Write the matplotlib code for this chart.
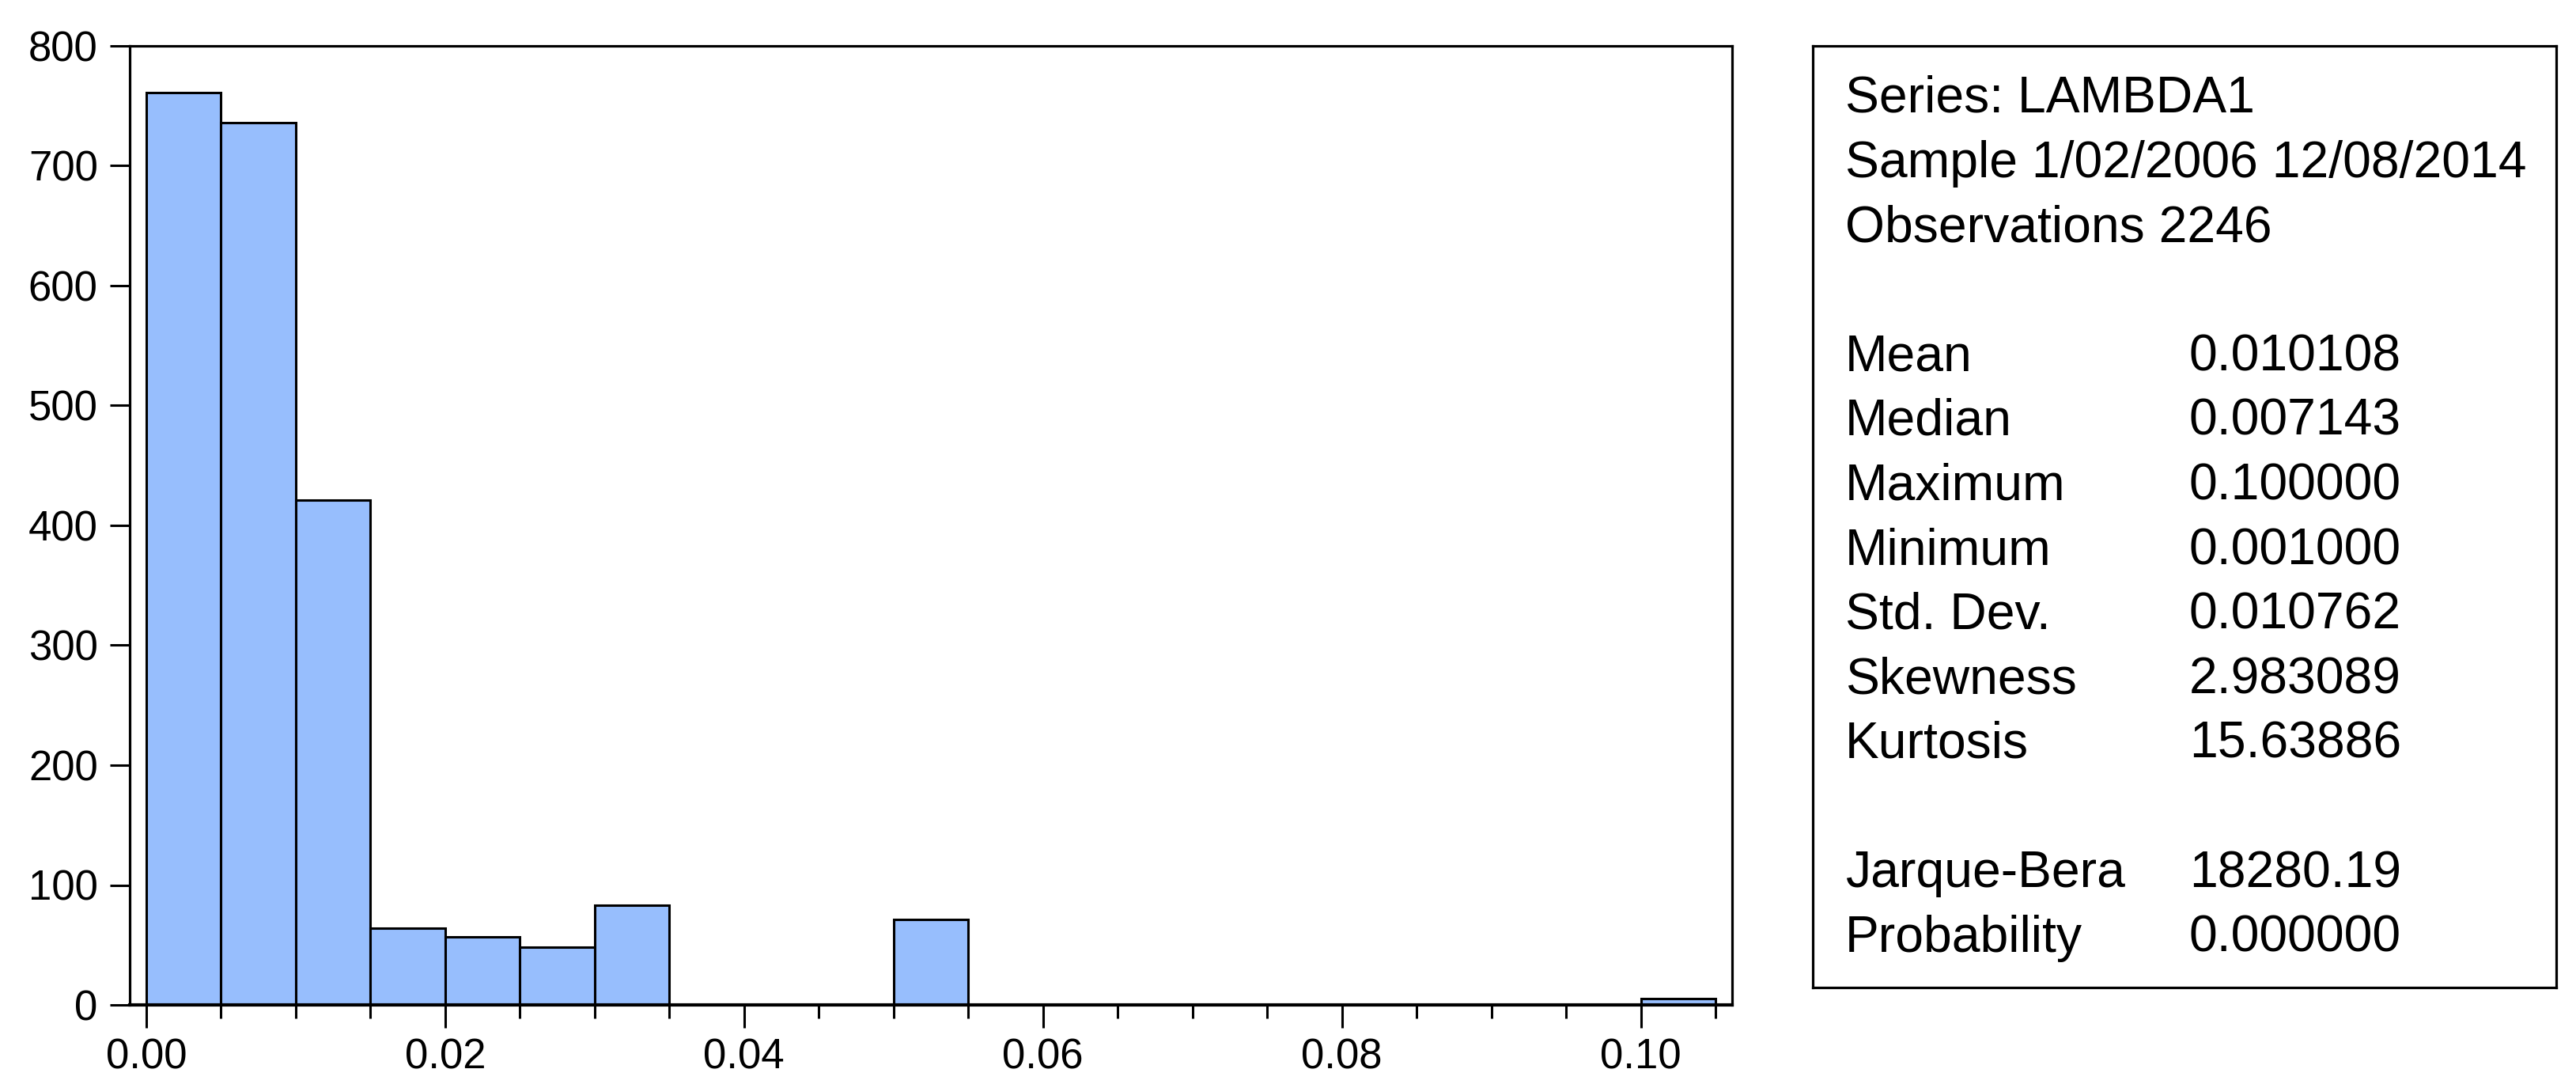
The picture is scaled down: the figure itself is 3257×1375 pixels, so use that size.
import numpy as np
import matplotlib
matplotlib.use("Agg")
import matplotlib.pyplot as plt
from matplotlib.ticker import MultipleLocator, FixedLocator

plt.rcParams['font.family'] = ['Liberation Sans', 'DejaVu Sans']

# ---- data ----
bin_left = [0.000, 0.005, 0.010, 0.015, 0.020, 0.025, 0.030, 0.035, 0.040, 0.045,
            0.050, 0.055, 0.060, 0.065, 0.070, 0.075, 0.080, 0.085, 0.090, 0.095, 0.100]
counts = [761, 736, 421, 64, 57, 48, 83, 0, 0, 0,
          71, 0, 0, 0, 0, 0, 0, 0, 0, 0, 5]
bin_width = 0.005

x_major = [0.00, 0.02, 0.04, 0.06, 0.08, 0.10]
x_major_labels = ["0.00", "0.02", "0.04", "0.06", "0.08", "0.10"]
y_ticks = [0, 100, 200, 300, 400, 500, 600, 700, 800]

header_lines = ["Series: LAMBDA1", "Sample 1/02/2006 12/08/2014", "Observations 2246"]
stat_names = ["Mean", "Median", "Maximum", "Minimum", "Std. Dev.", "Skewness", "Kurtosis"]
stat_values = ["0.010108", "0.007143", "0.100000", "0.001000", "0.010762", "2.983089", "15.63886"]
test_names = ["Jarque-Bera", "Probability"]
test_values = ["18280.19", "0.000000"]

# ---- figure ----
W, H = 3257, 1375
dpi = 100
fig = plt.figure(figsize=(W / dpi, H / dpi), dpi=dpi)
fig.patch.set_facecolor('white')

ax_l, ax_r, ax_t, ax_b = 164, 2190, 58, 1270
ax = fig.add_axes([ax_l / W, 1 - ax_b / H, (ax_r - ax_l) / W, (ax_b - ax_t) / H])

bar_color = '#97BEFD'
ax.bar(bin_left, counts, width=bin_width, align='edge', color=bar_color,
       edgecolor='black', linewidth=2.2, zorder=2)

ax.set_xlim(-0.0011, 0.1061)
ax.set_ylim(0, 800)

for side in ['left', 'top', 'right']:
    ax.spines[side].set_linewidth(2.3)
ax.spines['bottom'].set_linewidth(3.0)
for s in ax.spines.values():
    s.set_zorder(3)

ax.xaxis.set_major_locator(FixedLocator(x_major))
ax.set_xticklabels(x_major_labels)
ax.xaxis.set_minor_locator(MultipleLocator(0.005))
ax.set_yticks(y_ticks)
ax.set_yticklabels([str(v) for v in y_ticks])

ax.tick_params(axis='x', which='major', direction='out', length=21, width=2.2,
               labelsize=38, pad=9, top=False)
ax.tick_params(axis='x', which='minor', direction='out', length=12, width=2.2, top=False)
ax.tick_params(axis='y', which='major', direction='out', length=18, width=2.2,
               labelsize=38, pad=11, right=False)
ax.tick_params(axis='y', which='minor', left=False, right=False)

# ---- statistics box ----
bx_l, bx_r, bx_t, bx_b = 2292, 3232, 58, 1248
box = fig.add_axes([bx_l / W, 1 - bx_b / H, (bx_r - bx_l) / W, (bx_b - bx_t) / H])
box.set_xticks([])
box.set_yticks([])
for s in box.spines.values():
    s.set_linewidth(2.3)

x_name = 2333 / W
x_val = 2768 / W
base0 = 142
step = 81.6
fs = 46.3

def ypos(k):
    return 1 - (base0 + step * k) / H

k = 0
for line in header_lines:
    fig.text(x_name, ypos(k), line, fontsize=fs, va='baseline', ha='left')
    k += 1
k += 1
for n, v in zip(stat_names, stat_values):
    fig.text(x_name, ypos(k), n, fontsize=fs, va='baseline', ha='left')
    fig.text(x_val, ypos(k), v, fontsize=fs, va='baseline', ha='left')
    k += 1
k += 1
for n, v in zip(test_names, test_values):
    fig.text(x_name, ypos(k), n, fontsize=fs, va='baseline', ha='left')
    fig.text(x_val, ypos(k), v, fontsize=fs, va='baseline', ha='left')
    k += 1

fig.savefig('out.png', dpi=dpi, facecolor='white')
